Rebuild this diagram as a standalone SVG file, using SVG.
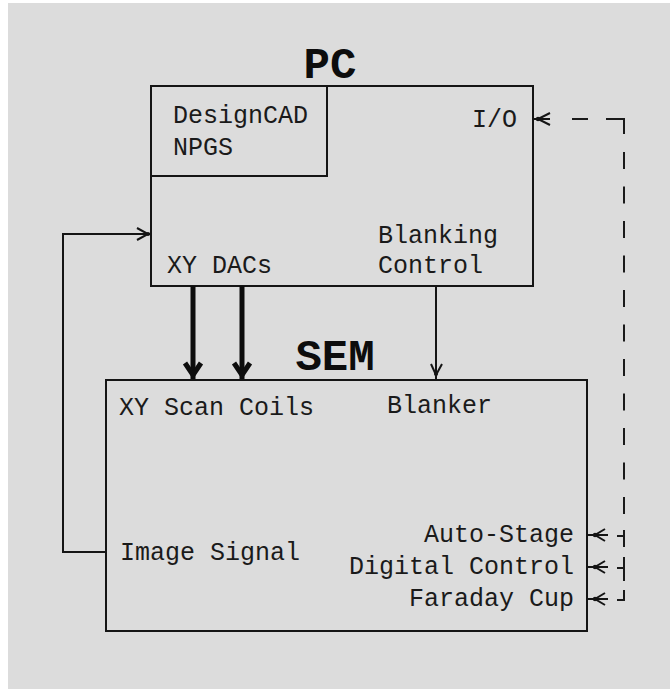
<svg xmlns="http://www.w3.org/2000/svg" width="670" height="689" viewBox="0 0 670 689">
  <defs>
    <style>
      .box { fill: none; stroke: #151515; stroke-width: 2; }
      .ln { fill: none; stroke: #151515; stroke-width: 2; }
      .thick { fill: none; stroke: #0d0d0d; stroke-width: 5; stroke-linejoin: miter; }
      .dash { fill: none; stroke: #1a1a1a; stroke-width: 2; }
      .lbl { font-family: "Liberation Mono", "DejaVu Sans Mono", monospace; font-size: 25px; fill: #1a1a1a; }
      .title { font-family: "Liberation Mono", "DejaVu Sans Mono", monospace; font-size: 44px; font-weight: bold; fill: #0d0d0d; }
      .dot { fill: #151515; }
    </style>
  </defs>
  <rect x="0" y="0" width="670" height="689" fill="#ffffff"/>
  <rect x="8" y="3" width="662" height="686" fill="#dcdcdc"/>

  <g id="pc">
    <rect class="box" x="151" y="86" width="382" height="200"/>
    <text class="title" x="330" y="78" text-anchor="middle">PC</text>
    <text class="lbl" x="472" y="127">I/O</text>
    <text class="lbl" x="378" y="243">Blanking</text>
    <text class="lbl" x="378" y="273">Control</text>
    <text class="lbl" x="167" y="273">XY DACs</text>
  </g>

  <g id="software">
    <rect class="box" x="151" y="86" width="176" height="90"/>
    <text class="lbl" x="173" y="123">DesignCAD</text>
    <text class="lbl" x="173" y="155">NPGS</text>
  </g>

  <g id="sem">
    <rect class="box" x="106" y="380" width="481" height="251"/>
    <text class="title" x="335" y="370" text-anchor="middle">SEM</text>
    <text class="lbl" x="119" y="415">XY Scan Coils</text>
    <text class="lbl" x="387" y="413">Blanker</text>
    <text class="lbl" x="120" y="560">Image Signal</text>
    <text class="lbl" x="574" y="542" text-anchor="end">Auto-Stage</text>
    <text class="lbl" x="574" y="574" text-anchor="end">Digital Control</text>
    <text class="lbl" x="574" y="606" text-anchor="end">Faraday Cup</text>
  </g>

  <g id="connectors">
    <!-- XY DACs to scan coils (thick) -->
    <line class="thick" x1="193" y1="286" x2="193" y2="379"/>
    <path class="thick" d="M185 363 L193 375 L201 363"/>
    <line class="thick" x1="242" y1="286" x2="242" y2="379"/>
    <path class="thick" d="M234 363 L242 375 L250 363"/>

    <!-- Blanking control to blanker -->
    <line class="ln" x1="436" y1="286" x2="436" y2="380"/>
    <path class="ln" d="M431 364 L436 375 L442 364"/>
    <circle class="dot" cx="436" cy="374" r="2"/>

    <!-- Image signal feedback -->
    <path class="ln" d="M106 552 H63 V234 H151"/>
    <path class="ln" d="M137 228 L148 234 L137 240"/>
    <circle class="dot" cx="148" cy="234" r="2"/>

    <!-- I/O dashed link -->
    <line class="ln" x1="533" y1="119" x2="550" y2="119"/>
    <path class="ln" d="M550 113 L538 119 L550 125"/>
    <circle class="dot" cx="538" cy="119" r="2.2"/>
    <line class="dash" x1="572" y1="119" x2="588" y2="119"/>
    <path class="dash" d="M606 119 H624 V134"/>
    <line class="dash" x1="624" y1="152" x2="624" y2="514" stroke-dasharray="17 17.5"/>

    <!-- Auto-Stage -->
    <line class="ln" x1="587" y1="535" x2="608" y2="535"/>
    <path class="ln" d="M605 529 L595 535 L605 541"/>
    <circle class="dot" cx="595" cy="535" r="2.2"/>
    <path class="dash" d="M624 530 V547 M617 536 H624"/>

    <!-- Digital Control -->
    <line class="ln" x1="587" y1="567" x2="608" y2="567"/>
    <path class="ln" d="M605 561 L595 567 L605 573"/>
    <circle class="dot" cx="595" cy="567" r="2.2"/>
    <path class="dash" d="M624 557 V581 M617 568 H624"/>

    <!-- Faraday Cup -->
    <line class="ln" x1="587" y1="599" x2="608" y2="599"/>
    <path class="ln" d="M605 593 L595 599 L605 605"/>
    <circle class="dot" cx="595" cy="599" r="2.2"/>
    <path class="dash" d="M624 590 V600 H617"/>
  </g>
</svg>
